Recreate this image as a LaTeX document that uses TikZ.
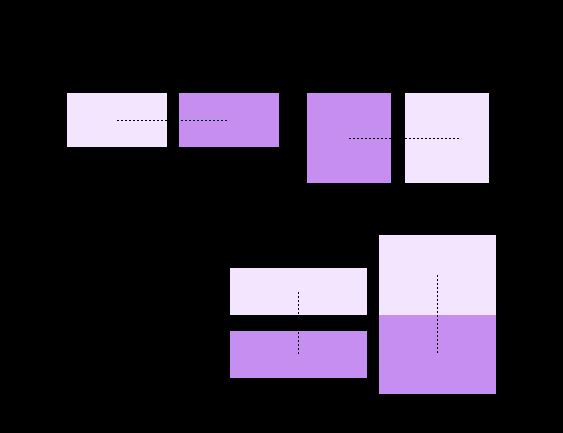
\documentclass[tikz,border=0pt]{standalone}
\usepackage{tikz}
\definecolor{bxbg}{HTML}{000000}
\definecolor{bxlight}{HTML}{F3E5FD}
\definecolor{bxpurple}{HTML}{C68EF1}

\begin{document}
\begin{tikzpicture}[
        x=1pt, y=-1pt,
        every node/.style={inner sep=0pt, outer sep=0pt},
        lt/.style={fill=bxlight, minimum width=#1},
        pp/.style={fill=bxpurple, minimum width=#1},
        link/.style={draw=black, line width=0.9pt, dash pattern=on 2.4pt off 1.6pt},
      ]
      \fill[bxbg] (0,0) rectangle (563,433);
      \useasboundingbox (0,0) rectangle (563,433);
      % top left pair
      \node[lt=100pt, minimum height=54pt] (a) at (117,120) {};
      \node[pp=100pt, minimum height=54pt] (b) at (229,120) {};
      % top right pair
      \node[pp=84pt, minimum height=90pt] (c) at (349,138) {};
      \node[lt=84pt, minimum height=90pt] (d) at (447,138) {};
      \coordinate (dend) at (461,138);
      % bottom stacks
      \node[lt=137pt, minimum height=47pt] (e) at (298.5,291.5) {};
      \node[pp=137pt, minimum height=47pt] (f) at (298.5,354.5) {};
      \node[lt=117pt, minimum height=80pt] (g) at (437.5,275) {};
      \node[pp=117pt, minimum height=79pt] (h) at (437.5,354.5) {};
      \draw[link] (a.center) -- (b.center);
      \draw[link] (c.center) -- (dend);
      \draw[link] (e.center) -- (f.center);
      \draw[link] (g.center) -- (h.center);
    \end{tikzpicture}
\end{document}
